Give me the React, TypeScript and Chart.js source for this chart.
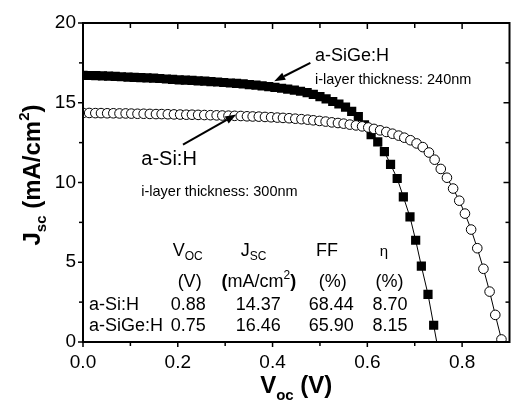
import React, { useEffect, useRef } from "react";
import { Chart, registerables } from "chart.js";

Chart.register(...registerables);

// ---- data ----
const siVoc = [
  0.000, 0.013, 0.026, 0.038, 0.051, 0.064, 0.077, 0.090, 0.102, 0.115,
  0.128, 0.141, 0.154, 0.166, 0.179, 0.192, 0.205, 0.218, 0.230, 0.243,
  0.256, 0.269, 0.282, 0.294, 0.307, 0.320, 0.333, 0.346, 0.358, 0.371,
  0.384, 0.397, 0.410, 0.422, 0.435, 0.448, 0.461, 0.474, 0.486, 0.499,
  0.512, 0.525, 0.538, 0.550, 0.563, 0.576, 0.589, 0.602, 0.614, 0.627,
  0.640, 0.653, 0.666, 0.678, 0.691, 0.704, 0.717, 0.730, 0.742, 0.755,
  0.768, 0.781, 0.794, 0.806, 0.819, 0.832, 0.845, 0.858, 0.870, 0.883,
];
const siJsc = [
  14.36, 14.36, 14.35, 14.35, 14.34, 14.34, 14.33, 14.33, 14.32, 14.31,
  14.31, 14.30, 14.29, 14.29, 14.28, 14.27, 14.26, 14.25, 14.25, 14.24,
  14.23, 14.22, 14.21, 14.20, 14.19, 14.18, 14.17, 14.15, 14.14, 14.13,
  14.11, 14.09, 14.07, 14.05, 14.03, 14.00, 13.97, 13.94, 13.90, 13.86,
  13.82, 13.77, 13.73, 13.69, 13.63, 13.58, 13.52, 13.45, 13.36, 13.27,
  13.17, 13.06, 12.94, 12.81, 12.65, 12.45, 12.22, 11.88, 11.43, 10.85,
  10.30, 9.62, 8.86, 8.05, 7.05, 5.88, 4.59, 3.16, 1.70, 0.16,
];

const sigeVoc = [
  0.000, 0.014, 0.027, 0.041, 0.054, 0.068, 0.081, 0.095, 0.108, 0.122,
  0.135, 0.149, 0.162, 0.176, 0.189, 0.203, 0.216, 0.230, 0.243, 0.257,
  0.270, 0.284, 0.297, 0.311, 0.324, 0.338, 0.351, 0.365, 0.378, 0.392,
  0.405, 0.419, 0.432, 0.446, 0.459, 0.473, 0.486, 0.500, 0.513, 0.527,
  0.540, 0.554, 0.567, 0.581, 0.594, 0.608, 0.622, 0.636, 0.649, 0.663,
  0.676, 0.690, 0.702, 0.714, 0.728, 0.740, 0.752,
];
const sigeJsc = [
  16.72, 16.71, 16.70, 16.68, 16.67, 16.65, 16.63, 16.61, 16.59, 16.57,
  16.56, 16.54, 16.52, 16.49, 16.46, 16.44, 16.42, 16.40, 16.37, 16.35,
  16.32, 16.30, 16.27, 16.24, 16.21, 16.18, 16.14, 16.10, 16.06, 16.01,
  15.96, 15.91, 15.85, 15.79, 15.72, 15.63, 15.52, 15.38, 15.24, 15.08,
  14.92, 14.72, 14.46, 14.13, 13.62, 13.00, 12.55, 11.93, 11.14, 10.25,
  9.10, 7.84, 6.38, 4.76, 2.99, 1.05, -0.90,
];

const xTickValues = [0, 0.2, 0.4, 0.6, 0.8];
const xMinorTickValues = [0.1, 0.3, 0.5, 0.7];
const yTickValues = [0, 5, 10, 15, 20];
const yMinorTickValues = [2.5, 7.5, 12.5, 17.5];

const rowNames = ["a-Si:H", "a-SiGe:H"];
const vocValues = ["0.88", "0.75"];
const jscValues = ["14.37", "16.46"];
const ffValues = ["68.44", "65.90"];
const etaValues = ["8.70", "8.15"];

const seriesNames = ["a-Si:H", "a-SiGe:H"];
const thicknessNotes = ["i-layer thickness: 300nm", "i-layer thickness: 240nm"];

const FAMILY = "'Liberation Sans', Arial, Helvetica, sans-serif";

type Seg = { t: string; f: string; dy?: number };

function segsWidth(ctx: CanvasRenderingContext2D, segs: Seg[]) {
  let w = 0;
  for (const s of segs) {
    ctx.font = s.f;
    w += ctx.measureText(s.t).width;
  }
  return w;
}

function drawSegs(
  ctx: CanvasRenderingContext2D,
  segs: Seg[],
  x: number,
  y: number,
  align: "left" | "center"
) {
  const w = segsWidth(ctx, segs);
  let cx = align === "center" ? x - w / 2 : x;
  ctx.textAlign = "left";
  ctx.textBaseline = "alphabetic";
  for (const s of segs) {
    ctx.font = s.f;
    ctx.fillText(s.t, cx, y + (s.dy || 0));
    cx += ctx.measureText(s.t).width;
  }
}

function arrow(ctx: CanvasRenderingContext2D, x1: number, y1: number, x2: number, y2: number) {
  const ang = Math.atan2(y2 - y1, x2 - x1);
  const hl = 11;
  const hw = 4;
  const bx = x2 - hl * Math.cos(ang);
  const by = y2 - hl * Math.sin(ang);
  ctx.beginPath();
  ctx.moveTo(x1, y1);
  ctx.lineTo(bx, by);
  ctx.lineWidth = 2;
  ctx.strokeStyle = "#000";
  ctx.stroke();
  ctx.beginPath();
  ctx.moveTo(x2, y2);
  ctx.lineTo(bx + hw * Math.sin(ang), by - hw * Math.cos(ang));
  ctx.lineTo(bx - hw * Math.sin(ang), by + hw * Math.cos(ang));
  ctx.closePath();
  ctx.fillStyle = "#000";
  ctx.fill();
}

const decorPlugin = {
  id: "decor",
  afterDraw(chart: any) {
    const ctx: CanvasRenderingContext2D = chart.ctx;
    const xs = chart.scales.x;
    const ys = chart.scales.y;
    const a = chart.chartArea;
    const X = (v: number) => xs.getPixelForValue(v);
    const Y = (v: number) => ys.getPixelForValue(v);
    ctx.save();
    ctx.fillStyle = "#000";
    ctx.strokeStyle = "#000";

    // frame
    ctx.lineWidth = 2;
    ctx.strokeRect(a.left, a.top, a.right - a.left, a.bottom - a.top);

    // ticks
    ctx.lineWidth = 1.5;
    const line = (x1: number, y1: number, x2: number, y2: number) => {
      ctx.beginPath();
      ctx.moveTo(x1, y1);
      ctx.lineTo(x2, y2);
      ctx.stroke();
    };
    for (const v of xTickValues) {
      const p = X(v);
      line(p, a.bottom, p, a.bottom + 5);
      line(p, a.top, p, a.top + 6);
    }
    for (const v of xMinorTickValues) {
      const p = X(v);
      line(p, a.bottom, p, a.bottom + 4);
      line(p, a.top, p, a.top + 5);
    }
    for (const v of yTickValues) {
      const p = Y(v);
      line(a.left - 5, p, a.left, p);
      line(a.right - 6, p, a.right, p);
    }
    for (const v of yMinorTickValues) {
      const p = Y(v);
      line(a.left - 4, p, a.left, p);
      line(a.right - 4, p, a.right, p);
    }

    // axis titles
    const bold24 = `bold 24px ${FAMILY}`;
    const bold15 = `bold 15px ${FAMILY}`;
    drawSegs(
      ctx,
      [
        { t: "V", f: bold24 },
        { t: "oc", f: bold15, dy: 7 },
        { t: " (V)", f: bold24 },
      ],
      (a.left + a.right) / 2,
      393,
      "center"
    );
    ctx.save();
    ctx.translate(40, 175);
    ctx.rotate(-Math.PI / 2);
    drawSegs(
      ctx,
      [
        { t: "J", f: bold24 },
        { t: "sc", f: bold15, dy: 6 },
        { t: " (mA/cm", f: bold24 },
        { t: "2", f: bold15, dy: -11 },
        { t: ")", f: bold24 },
      ],
      0,
      0,
      "center"
    );
    ctx.restore();

    // series annotations
    const f18 = `18px ${FAMILY}`;
    const f20 = `20px ${FAMILY}`;
    const f14 = `14.5px ${FAMILY}`;
    drawSegs(ctx, [{ t: seriesNames[1], f: f18 }], X(0.4896), Y(17.6), "left");
    drawSegs(ctx, [{ t: thicknessNotes[1], f: f14 }], X(0.4896), Y(16.17), "left");
    drawSegs(ctx, [{ t: seriesNames[0], f: f20 }], X(0.123), Y(11.08), "left");
    drawSegs(ctx, [{ t: thicknessNotes[0], f: f14 }], X(0.123), Y(9.15), "left");
    arrow(ctx, X(0.4798), Y(17.5), X(0.4035), Y(16.35));
    arrow(ctx, X(0.211), Y(12.38), X(0.3235), Y(14.26));

    // table
    const f12 = `12px ${FAMILY}`;
    const b18 = `bold 18px ${FAMILY}`;
    const hy = Y(5.38);
    drawSegs(ctx, [{ t: "V", f: f18 }, { t: "OC", f: f12, dy: 4 }], X(0.221), hy, "center");
    drawSegs(ctx, [{ t: "J", f: f18 }, { t: "SC", f: f12, dy: 4 }], X(0.360), hy, "center");
    drawSegs(ctx, [{ t: "FF", f: f18 }], X(0.515), hy, "center");
    drawSegs(ctx, [{ t: "η", f: `15px ${FAMILY}` }], X(0.635), hy, "center");
    const uy = Y(3.42);
    drawSegs(ctx, [{ t: "(V)", f: f18 }], X(0.225), uy, "center");
    drawSegs(
      ctx,
      [
        { t: "(", f: b18 },
        { t: "mA/cm", f: f18 },
        { t: "2", f: f12, dy: -8 },
        { t: ")", f: b18 },
      ],
      X(0.371),
      uy,
      "center"
    );
    drawSegs(ctx, [{ t: "(%)", f: f18 }], X(0.527), uy, "center");
    drawSegs(ctx, [{ t: "(%)", f: f18 }], X(0.647), uy, "center");
    const rowY = [Y(2.0), Y(0.69)];
    for (let i = 0; i < rowNames.length; i++) {
      drawSegs(ctx, [{ t: rowNames[i], f: f18 }], X(0.0125), rowY[i], "left");
      drawSegs(ctx, [{ t: vocValues[i], f: f18 }], X(0.222), rowY[i], "center");
      drawSegs(ctx, [{ t: jscValues[i], f: f18 }], X(0.370), rowY[i], "center");
      drawSegs(ctx, [{ t: ffValues[i], f: f18 }], X(0.524), rowY[i], "center");
      drawSegs(ctx, [{ t: etaValues[i], f: f18 }], X(0.648), rowY[i], "center");
    }
    ctx.restore();
  },
};

export default function App() {
  const ref = useRef<HTMLCanvasElement | null>(null);
  useEffect(() => {
    if (!ref.current) return;
    const chart = new Chart(ref.current, {
      type: "line",
      data: {
        datasets: [
          {
            label: seriesNames[0],
            data: siVoc.map((v, i) => ({ x: v, y: siJsc[i] })),
            borderColor: "#000",
            borderWidth: 1,
            pointStyle: "circle",
            pointRadius: 4.8,
            pointBorderWidth: 1,
            pointBorderColor: "#000",
            pointBackgroundColor: "#fff",
            tension: 0,
            fill: false,
          },
          {
            label: seriesNames[1],
            data: sigeVoc.map((v, i) => ({ x: v, y: sigeJsc[i] })),
            borderColor: "#000",
            borderWidth: 1,
            pointStyle: "rect",
            pointRadius: 6.5,
            pointBorderWidth: 0,
            pointBackgroundColor: "#000",
            tension: 0,
            fill: false,
            clip: 0,
          },
        ],
      } as any,
      options: {
        animation: false,
        responsive: false,
        devicePixelRatio: 1,
        events: [],
        layout: { padding: { top: 23, right: 1, left: 0, bottom: 0 } },
        plugins: { legend: { display: false }, tooltip: { enabled: false } },
        scales: {
          x: {
            type: "linear",
            min: 0,
            max: 0.9,
            grid: { display: false, drawTicks: false },
            border: { display: false },
            afterBuildTicks: (s: any) => {
              s.ticks = xTickValues.map((v) => ({ value: v }));
            },
            afterFit: (s: any) => {
              s.height = 59;
            },
            ticks: {
              padding: 9,
              color: "#000",
              autoSkip: false,
              maxRotation: 0,
              font: { family: FAMILY, size: 19 },
              callback: (v: any) => Number(v).toFixed(1),
            },
          },
          y: {
            type: "linear",
            min: 0,
            max: 20,
            grid: { display: false, drawTicks: false },
            border: { display: false },
            afterBuildTicks: (s: any) => {
              s.ticks = yTickValues.map((v) => ({ value: v }));
            },
            afterFit: (s: any) => {
              s.width = 83;
            },
            ticks: {
              padding: 7,
              color: "#000",
              autoSkip: false,
              font: { family: FAMILY, size: 19 },
              callback: (v: any) => String(v),
            },
          },
        },
      } as any,
      plugins: [decorPlugin],
    });
    return () => chart.destroy();
  }, []);
  return (
    <div style={{ position: "fixed", left: 0, top: 0, width: 516, height: 401, background: "#fff" }}>
      <canvas ref={ref} width={516} height={401} style={{ display: "block" }} />
    </div>
  );
}
